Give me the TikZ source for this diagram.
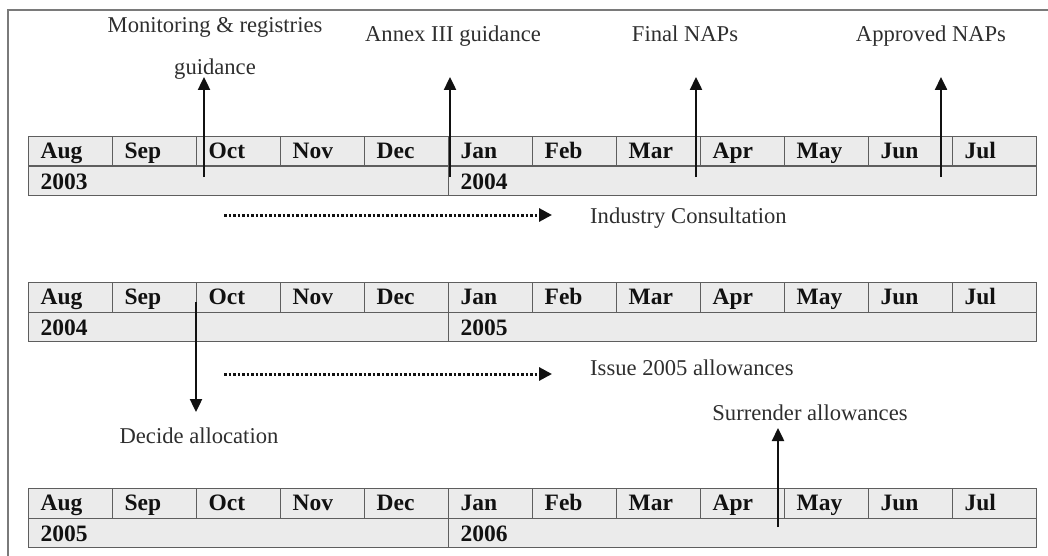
\documentclass[tikz,border=0pt]{standalone}
\usepackage{fontspec}
\setmainfont{Liberation Serif}
\usetikzlibrary{arrows.meta}
\definecolor{cellfill}{HTML}{EBEBEB}
\definecolor{cellline}{HTML}{5E5E5E}
\definecolor{frameline}{HTML}{7A7A7A}
\definecolor{labelcol}{HTML}{2E2E2E}
\definecolor{inkcol}{HTML}{111111}
\begin{document}
\begin{tikzpicture}[x=1pt,y=-1pt,
  monthcell/.style={draw=cellline, fill=cellfill, line width=1.3pt, anchor=north west,
    inner xsep=12pt, inner ysep=0pt, text width=60pt, text height=22pt, text depth=7.5pt,
    align=left, font=\fontsize{23.5}{23.5}\selectfont\bfseries, text=inkcol},
  yearcell/.style={monthcell, text height=23pt, text depth=6.5pt},
  evlabel/.style={font=\fontsize{22.6}{26}\selectfont, text=labelcol, inner sep=0pt, anchor=base},
  evarrow/.style={line width=2.4pt, draw=inkcol, -{Triangle[length=13pt,width=12pt]}},
  dotarrow/.style={line width=3pt, draw=inkcol, dash pattern=on 2.5pt off 2pt,
    -{Triangle[length=13pt,width=13pt]}}]
\useasboundingbox (0,0) rectangle (1048,556);
% frame
\draw[frameline, line width=1.5pt] (8,556) -- (8,10) -- (1048,10);
% timeline rows
\foreach \r/\top/\ya/\yb in {1/136/2003/2004, 2/282/2004/2005, 3/488/2005/2006}{
  \foreach \m [count=\i from 0] in {Aug,Sep,Oct,Nov,Dec,Jan,Feb,Mar,Apr,May,Jun,Jul}{
    \node[monthcell] (r\r m\i) at (28+84*\i,\top) {\m};
  }
  \node[yearcell, text width=396pt] (r\r ya) at (28,\top+29.5) {\ya};
  \node[yearcell, text width=564pt] (r\r yb) at (448,\top+29.5) {\yb};
}
% labels
\node[evlabel] (lmon) at (215,33) {Monitoring \& registries};
\node[evlabel] (lmonb) at (215,75) {guidance};
\node[evlabel] (lannex) at (453,42) {Annex III guidance};
\node[evlabel] (lfinal) at (685,42) {Final NAPs};
\node[evlabel] (lappr) at (931,42) {Approved NAPs};
\node[evlabel, anchor=base west] (lind) at (590,223) {Industry Consultation};
\node[evlabel, anchor=base west] (liss) at (590,375) {Issue 2005 allowances};
\node[evlabel] (ldec) at (199,443) {Decide allocation};
\node[evlabel] (lsur) at (810,420) {Surrender allowances};
% arrow end points
\coordinate (a1s) at (204,177); \coordinate (a1e) at (204,77);
\coordinate (a2s) at (450,177); \coordinate (a2e) at (450,77);
\coordinate (a3s) at (696,177); \coordinate (a3e) at (696,77);
\coordinate (a4s) at (941,177); \coordinate (a4e) at (941,77);
\coordinate (d1s) at (224,215); \coordinate (d1e) at (552,215);
\coordinate (d2s) at (224,374); \coordinate (d2e) at (552,374);
\coordinate (a5s) at (196,302); \coordinate (a5e) at (196,412);
\coordinate (a6s) at (778,527); \coordinate (a6e) at (778,428);
% arrows
\draw[evarrow] (a1s) -- (a1e);
\draw[evarrow] (a2s) -- (a2e);
\draw[evarrow] (a3s) -- (a3e);
\draw[evarrow] (a4s) -- (a4e);
\draw[dotarrow] (d1s) -- (d1e);
\draw[dotarrow] (d2s) -- (d2e);
\draw[evarrow] (a5s) -- (a5e);
\draw[evarrow] (a6s) -- (a6e);
\end{tikzpicture}
\end{document}
